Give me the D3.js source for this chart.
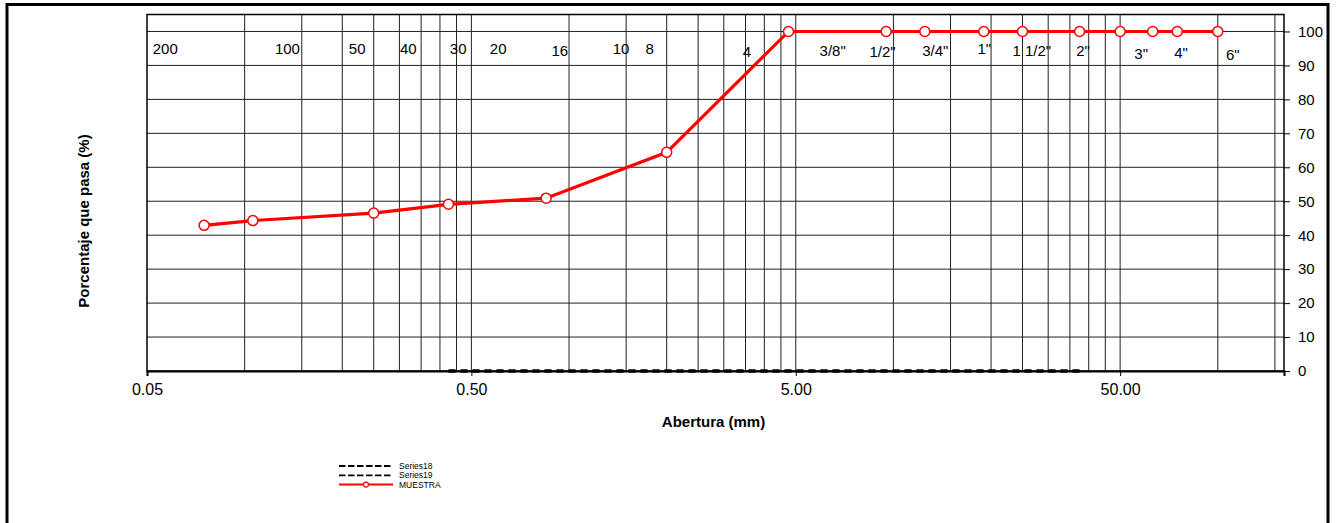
<!DOCTYPE html>
<html>
<head>
<meta charset="utf-8">
<script src="https://cdn.jsdelivr.net/npm/d3@7"></script>
<style>
  body { margin: 0; background: #fff; }
  text { font-family: Arial, "Liberation Sans", sans-serif; }
</style>
</head>
<body>
<svg id="chart"></svg>
<script>
// sample curve: sieve opening (mm) vs % passing
var openings = [0.075, 0.106, 0.25, 0.425, 0.85, 2.0, 4.75, 9.5, 12.5, 19, 25, 37.5, 50, 63, 75, 100];
var passing = [42.9, 44.3, 46.5, 49.1, 50.9, 64.4, 100, 100, 100, 100, 100, 100, 100, 100, 100, 100];

// Series18 / Series19 (flat at zero)
var limitX = [0.425, 37.5];
var limitY = [0, 0];

// sieve names written inside the plot (anchor in mm, % units)
var sieveNames = ["200", "100", "50", "40", "30", "20", "16", "10", "8", "4",
  "3/8\"", "1/2\"", "3/4\"", "1\"", "1 1/2\"", "2\"", "3\"", "4\"", "6\""];
var sieveNameX = [0.0521, 0.124, 0.2095, 0.301, 0.429, 0.570, 0.883, 1.364, 1.722, 3.43,
  5.92, 8.44, 12.27, 18.16, 23.28, 36.6, 55.3, 73.4, 106];
var sieveNameY = [93.5, 93.5, 93.5, 93.5, 93.5, 93.5, 92.9, 93.4, 93.4, 92.4,
  92.9, 92.5, 92.9, 93.4, 92.9, 92.9, 92.0, 92.3, 91.5];

var xMajor = [0.05, 0.5, 5, 50];
var yTicks = [0, 10, 20, 30, 40, 50, 60, 70, 80, 90, 100];
var legendNames = ["Series18", "Series19", "MUESTRA"];

const width = 1337, height = 523;
const plotL = 147, plotR = 1284, plotT = 14.5, plotB = 371;

const svg = d3.select("#chart").attr("width", width).attr("height", height);

const x = d3.scaleLog().domain([0.05, 160]).range([plotL, plotR]);
const y = d3.scaleLinear().domain([0, 105]).range([plotB, plotT]);

// outer frame
svg.append("rect")
  .attr("x", 7).attr("y", 4.5).attr("width", 1321).attr("height", 530)
  .attr("fill", "none").attr("stroke", "#000").attr("stroke-width", 3);

// vertical grid: multiples of each decade start
var grid = [];
xMajor.forEach(function(d) {
  for (var k = 2; k <= 10; k++) {
    var v = +(d * k).toFixed(4);
    if (v < 160) grid.push(v);
  }
});
svg.append("g").selectAll("line").data(grid).enter().append("line")
  .attr("x1", d => x(d)).attr("x2", d => x(d))
  .attr("y1", plotT).attr("y2", plotB)
  .attr("stroke", "#222").attr("stroke-width", 1);

// horizontal grid
svg.append("g").selectAll("line").data(yTicks.slice(1)).enter().append("line")
  .attr("x1", plotL).attr("x2", plotR)
  .attr("y1", d => y(d)).attr("y2", d => y(d))
  .attr("stroke", "#222").attr("stroke-width", 1);

// plot frame
svg.append("rect")
  .attr("x", plotL).attr("y", plotT).attr("width", plotR - plotL).attr("height", plotB - plotT)
  .attr("fill", "none").attr("stroke", "#000").attr("stroke-width", 1.5);

// x axis
const xAxis = svg.append("g")
  .attr("transform", "translate(0," + plotB + ")")
  .call(d3.axisBottom(x).tickValues(xMajor).tickFormat(d3.format(".2f")).tickSize(5).tickPadding(8));
xAxis.select(".domain").attr("stroke-width", 2);
xAxis.selectAll("text").attr("font-size", 16).attr("fill", "#000")
  .style("font-family", "Arial, 'Liberation Sans', sans-serif");

// y axis on the right
const yAxis = svg.append("g")
  .attr("transform", "translate(" + plotR + ",0)")
  .call(d3.axisRight(y).tickValues(yTicks).tickSize(6).tickPadding(8));
yAxis.select(".domain").remove();
yAxis.selectAll("text").attr("font-size", 15).attr("fill", "#000")
  .style("font-family", "Arial, 'Liberation Sans', sans-serif");

// sieve names
svg.append("g").selectAll("text").data(sieveNames).enter().append("text")
  .attr("x", (d, i) => x(sieveNameX[i]))
  .attr("y", (d, i) => y(sieveNameY[i]))
  .attr("font-size", 15)
  .text(d => d);

// dashed series at zero
const line = d3.line().x(d => x(d[0])).y(d => y(d[1]));
var limitPts = limitX.map((d, i) => [d, limitY[i]]);
["s18", "s19"].forEach(function() {
  svg.append("path").datum(limitPts)
    .attr("d", line)
    .attr("fill", "none").attr("stroke", "#000")
    .attr("stroke-width", 3).attr("stroke-dasharray", "7,5");
});

// sample curve
var pts = openings.map((d, i) => [d, passing[i]]);
svg.append("path").datum(pts)
  .attr("d", line)
  .attr("fill", "none").attr("stroke", "#ff0000").attr("stroke-width", 3.2);
svg.append("g").selectAll("circle").data(pts).enter().append("circle")
  .attr("cx", d => x(d[0])).attr("cy", d => y(d[1])).attr("r", 5)
  .attr("fill", "#fff").attr("stroke", "#ff0000").attr("stroke-width", 1.5);

// axis titles
svg.append("text")
  .attr("x", (plotL + plotR) / 2 - 2).attr("y", 427)
  .attr("text-anchor", "middle").attr("font-size", 15).attr("font-weight", "bold")
  .text("Abertura (mm)");
svg.append("text")
  .attr("transform", "translate(89,221) rotate(-90)")
  .attr("text-anchor", "middle").attr("font-size", 15).attr("font-weight", "bold")
  .text("Porcentaje que pasa (%)");

// legend
const lg = svg.append("g").attr("transform", "translate(339,466)");
legendNames.forEach(function(name, i) {
  var gy = i * 9.3;
  var red = name === "MUESTRA";
  lg.append("line")
    .attr("x1", 0).attr("x2", 54).attr("y1", gy).attr("y2", gy)
    .attr("stroke", red ? "#ff0000" : "#000")
    .attr("stroke-width", red ? 2 : 1.8)
    .attr("stroke-dasharray", red ? null : "6.5,2.5");
  if (red) {
    lg.append("circle").attr("cx", 27).attr("cy", gy).attr("r", 2.5)
      .attr("fill", "#fff").attr("stroke", "#ff0000").attr("stroke-width", 1.2);
  }
  lg.append("text")
    .attr("x", 60).attr("y", gy + 3)
    .attr("font-size", 8.5)
    .text(name);
});
</script>
</body>
</html>
